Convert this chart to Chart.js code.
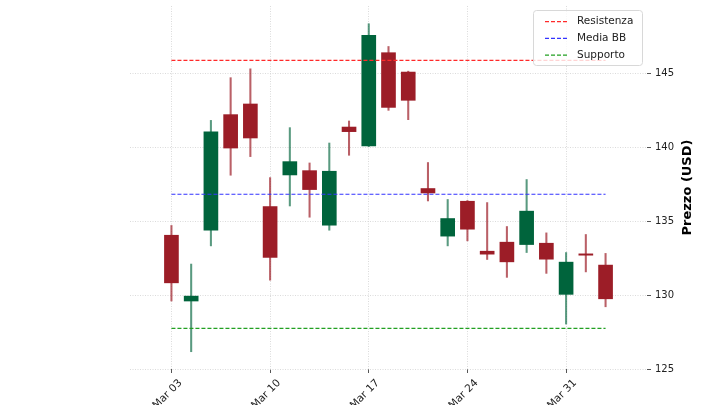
<!DOCTYPE html>
<html>
<head>
<meta charset="utf-8">
<script src="https://cdn.jsdelivr.net/npm/chart.js@4"></script>
<style>
  html, body { margin: 0; padding: 0; background: #fff; overflow: hidden; }
</style>
</head>
<body>
<canvas id="grafico" width="720" height="405"></canvas>
<script>
// giorni di borsa (solo feriali)
const dates = ["03-03", "03-04", "03-05", "03-06", "03-07",
               "03-10", "03-11", "03-12", "03-13", "03-14",
               "03-17", "03-18", "03-19", "03-20", "03-21",
               "03-24", "03-25", "03-26", "03-27", "03-28",
               "03-31", "04-01", "04-02"];

const opens  = [134.05, 129.60, 134.39, 142.21, 142.93,
                135.99, 138.13, 138.42, 134.73, 141.37,
                140.09, 146.40, 145.09, 137.21, 133.99,
                136.35, 132.97, 133.58, 133.42, 133.51,
                130.05, 132.79, 132.03];
const highs  = [134.71, 132.10, 141.82, 144.71, 145.31,
                137.95, 141.33, 138.94, 140.29, 141.78,
                148.36, 146.82, 145.15, 138.97, 136.47,
                136.40, 136.26, 134.64, 137.82, 134.21,
                132.88, 134.10, 132.82];
const lows   = [129.60, 126.17, 133.33, 138.11, 139.37,
                131.01, 136.03, 135.27, 134.39, 139.46,
                140.05, 142.50, 141.87, 136.37, 133.33,
                133.67, 132.41, 131.20, 132.88, 131.47,
                128.04, 131.57, 129.21];
const closes = [130.83, 129.93, 141.04, 139.95, 140.63,
                132.55, 139.03, 137.14, 138.38, 141.06,
                147.57, 142.70, 143.18, 136.91, 135.18,
                134.46, 132.77, 132.25, 135.68, 132.43,
                132.23, 132.70, 129.75];

const resistenza = 145.88;
const mediaBB = 136.82;
const supporto = 127.75;

const tickPositions = [0, 5, 10, 15, 20];
const tickLabels = ["Mar 03", "Mar 10", "Mar 17", "Mar 24", "Mar 31"];
const priceTicks = [125, 130, 135, 140, 145];

const upColor = "#00643c";
const downColor = "#9c1d27";
const upWick = "rgba(0, 100, 60, 0.65)";
const downWick = "rgba(156, 29, 39, 0.7)";

const isUp = opens.map((o, i) => closes[i] >= o);

const bodies = dates.map((d, i) => ({ x: i, y: [opens[i], closes[i]] }));
const wicks = dates.map((d, i) => ({ x: i, y: [lows[i], highs[i]] }));
const last = dates.length - 1;

const livelli = [
    { label: "Resistenza", value: resistenza, color: "#ff2a2a" },
    { label: "Media BB", value: mediaBB, color: "#3333ff" },
    { label: "Supporto", value: supporto, color: "#22a022" }
];

const lines = livelli.map(l => ({
    type: "line",
    label: l.label,
    data: [{ x: 0, y: l.value }, { x: last, y: l.value }],
    borderColor: l.color,
    borderWidth: 1.1,
    borderDash: [4, 2],
    pointRadius: 0,
    fill: false,
    order: -1
}));

// titolo asse y e legenda disegnati a mano
const extras = {
    id: "extras",
    afterDraw(chart) {
        const ctx = chart.ctx;
        const area = chart.chartArea;
        ctx.save();
        ctx.translate(688, (area.top + area.bottom) / 2);
        ctx.rotate(-Math.PI / 2);
        ctx.font = "bold 13px 'DejaVu Sans'";
        ctx.fillStyle = "#000";
        ctx.textAlign = "center";
        ctx.textBaseline = "middle";
        ctx.fillText("Prezzo (USD)", 0, 0);
        ctx.restore();

        ctx.save();
        ctx.beginPath();
        ctx.roundRect(533.5, 10.5, 109, 55, 3);
        ctx.fillStyle = "rgba(255,255,255,0.8)";
        ctx.fill();
        ctx.strokeStyle = "#d8d8d8";
        ctx.lineWidth = 1;
        ctx.stroke();
        ctx.font = "10.5px 'DejaVu Sans'";
        ctx.textBaseline = "middle";
        ctx.textAlign = "left";
        livelli.forEach((l, i) => {
            const y = 21.7 + i * 16.7;
            ctx.beginPath();
            ctx.setLineDash([4, 2]);
            ctx.strokeStyle = l.color;
            ctx.lineWidth = 1.2;
            ctx.moveTo(545, y);
            ctx.lineTo(569, y);
            ctx.stroke();
            ctx.setLineDash([]);
            ctx.fillStyle = "#222";
            ctx.fillText(l.label, 577, y);
        });
        ctx.restore();
    }
};

const gridStyle = {
    color: "#d2d2d2",
    lineWidth: 0.8,
    offset: false,
    tickColor: "#555",
    tickLength: 4,
    tickWidth: 1,
    tickBorderDash: []
};

new Chart(document.getElementById("grafico").getContext("2d"), {
    type: "bar",
    data: {
        datasets: [
            ...lines,
            {
                label: "body",
                data: bodies,
                backgroundColor: isUp.map(u => u ? upColor : downColor),
                barThickness: 14,
                grouped: false,
                order: 0
            },
            {
                label: "wick",
                data: wicks,
                backgroundColor: isUp.map(u => u ? upWick : downWick),
                barThickness: 1.4,
                grouped: false,
                order: 1
            }
        ]
    },
    options: {
        responsive: false,
        animation: false,
        layout: { padding: { left: 130, top: 6, right: 0, bottom: 0 } },
        plugins: { legend: { display: false }, tooltip: { enabled: false } },
        scales: {
            x: {
                type: "linear",
                offset: false,
                min: -2.1,
                max: 24.1,
                afterBuildTicks: axis => { axis.ticks = tickPositions.map(v => ({ value: v })); },
                afterFit: axis => { axis.height = 36; },
                grid: gridStyle,
                border: { display: false, dash: [1, 1.5] },
                ticks: {
                    autoSkip: false,
                    minRotation: 45,
                    maxRotation: 45,
                    labelOffset: 9,
                    padding: 4,
                    color: "#222",
                    font: { family: "DejaVu Sans", size: 10.5 },
                    callback: v => tickLabels[tickPositions.indexOf(v)]
                }
            },
            y: {
                position: "right",
                min: 125,
                max: 149.56,
                afterBuildTicks: axis => { axis.ticks = priceTicks.map(v => ({ value: v })); },
                afterFit: axis => { axis.width = 73; axis.paddingTop = 0; axis.paddingBottom = 0; },
                grid: gridStyle,
                border: { display: false, dash: [1, 1.5] },
                ticks: {
                    padding: 4,
                    color: "#222",
                    font: { family: "DejaVu Sans", size: 10 }
                }
            }
        }
    },
    plugins: [extras]
});
</script>
</body>
</html>
